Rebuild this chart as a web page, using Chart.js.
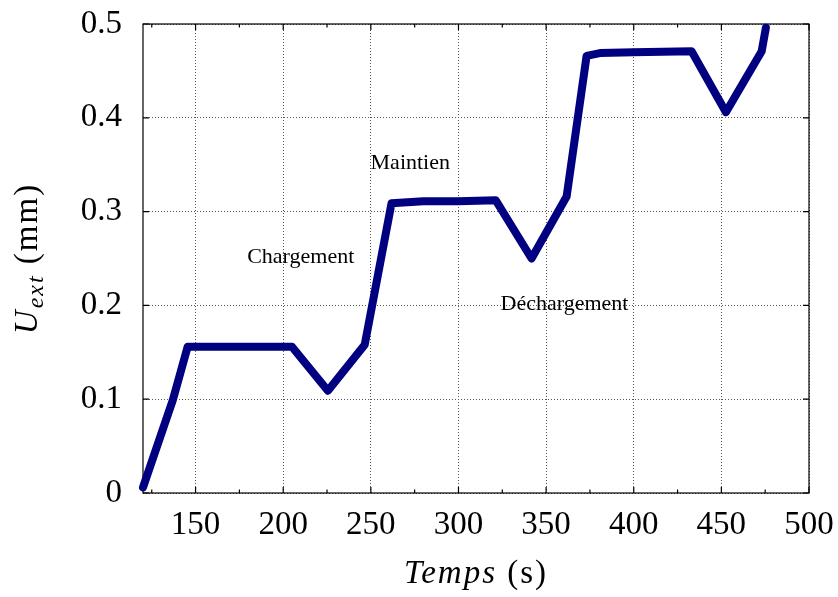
<!DOCTYPE html>
<html>
<head>
<meta charset="utf-8">
<script src="https://cdn.jsdelivr.net/npm/chart.js@4"></script>
<style>
  html, body { margin: 0; padding: 0; background: #fff; }
  #wrap { width: 838px; height: 597px; }
</style>
</head>
<body>
<div id="wrap"><canvas id="dispChart"></canvas></div>
<script>
// Temps (s) / U_ext (mm)
const temps = [120, 137, 145.5, 160, 180, 205, 225.5, 246.5, 261.8, 280, 300, 321.3,
               341.7, 361.7, 373.1, 380.7, 400, 433, 452.6, 473, 475.4];
const uExt  = [0.006, 0.099, 0.156, 0.156, 0.156, 0.156, 0.109, 0.158, 0.309, 0.311, 0.311, 0.312,
               0.250, 0.316, 0.466, 0.469, 0.470, 0.471, 0.406, 0.471, 0.496];

const xTicks = [150, 200, 250, 300, 350, 400, 450, 500];
const xMinorTicks = [125, 175, 225, 275, 325, 375, 425, 475];
const yTicks = [0, 0.1, 0.2, 0.3, 0.4, 0.5];

// phase labels, in data coordinates
const phaseLabels = ['Chargement', 'Maintien', 'Déchargement'];
const phaseX = [210, 272.5, 360.5];
const phaseY = [0.251, 0.352, 0.201];

const serif = '"Liberation Serif", "Times New Roman", serif';

// keep the plot box where the reference has it, whatever the tick labels need
function noScalePadding(s) {
    s.paddingTop = 0; s.paddingBottom = 0; s.paddingLeft = 0; s.paddingRight = 0;
}

// frame, inward ticks (mirrored), axis titles and text labels
const framePlugin = {
    id: 'frame',
    beforeDatasetsDraw(chart) {
        const ctx = chart.ctx;
        const a = chart.chartArea;
        const xs = chart.scales.x, ys = chart.scales.y;
        ctx.save();
        ctx.strokeStyle = '#000';
        ctx.lineWidth = 1.2;
        ctx.setLineDash([]);
        ctx.strokeRect(a.left, a.top, a.right - a.left, a.bottom - a.top);

        ctx.beginPath();
        xTicks.forEach(v => {
            const px = xs.getPixelForValue(v);
            ctx.moveTo(px, a.bottom); ctx.lineTo(px, a.bottom - 6);
            ctx.moveTo(px, a.top); ctx.lineTo(px, a.top + 6);
        });
        xMinorTicks.forEach(v => {
            const px = xs.getPixelForValue(v);
            ctx.moveTo(px, a.bottom); ctx.lineTo(px, a.bottom - 3.5);
            ctx.moveTo(px, a.top); ctx.lineTo(px, a.top + 3.5);
        });
        yTicks.forEach(v => {
            const py = ys.getPixelForValue(v);
            ctx.moveTo(a.left, py); ctx.lineTo(a.left + 6, py);
            ctx.moveTo(a.right, py); ctx.lineTo(a.right - 6, py);
        });
        ctx.stroke();
        ctx.restore();
    },
    afterDraw(chart) {
        const ctx = chart.ctx;
        const a = chart.chartArea;
        const xs = chart.scales.x, ys = chart.scales.y;
        ctx.save();
        ctx.fillStyle = '#000';

        // phase labels
        ctx.font = '22px ' + serif;
        ctx.textAlign = 'center';
        ctx.textBaseline = 'middle';
        phaseLabels.forEach((t, i) => {
            ctx.fillText(t, xs.getPixelForValue(phaseX[i]), ys.getPixelForValue(phaseY[i]));
        });

        // x title: Temps (s)
        ctx.textBaseline = 'alphabetic';
        ctx.textAlign = 'left';
        ctx.letterSpacing = '2px';
        const fIt = 'italic 33px ' + serif, fUp = '33px ' + serif;
        ctx.font = fIt; const w1 = ctx.measureText('Temps').width;
        ctx.font = fUp; const w2 = ctx.measureText(' (s)').width;
        let x0 = (a.left + a.right) / 2 - (w1 + w2) / 2;
        const by = 583;
        ctx.font = fIt; ctx.fillText('Temps', x0, by);
        ctx.font = fUp; ctx.fillText(' (s)', x0 + w1, by);

        // y title: U_ext (mm), rotated
        ctx.translate(37, (a.top + a.bottom) / 2);
        ctx.rotate(-Math.PI / 2);
        const fSub = 'italic 24px ' + serif;
        ctx.font = fIt; const u1 = ctx.measureText('U').width;
        ctx.font = fSub; const u2 = ctx.measureText('ext').width;
        ctx.font = fUp; const u3 = ctx.measureText(' (mm)').width;
        let s = -(u1 + u2 + u3) / 2;
        ctx.font = fIt; ctx.fillText('U', s, 0);
        ctx.font = fSub; ctx.fillText('ext', s + u1, 6);
        ctx.font = fUp; ctx.fillText(' (mm)', s + u1 + u2, 0);
        ctx.restore();
    }
};

const ctx = document.getElementById('dispChart').getContext('2d');
const dispChart = new Chart(ctx, {
    type: 'line',
    data: {
        datasets: [{
            data: temps.map((t, i) => ({ x: t, y: uExt[i] })),
            borderColor: '#000080',
            borderWidth: 8,
            borderCapStyle: 'round',
            borderJoinStyle: 'round',
            pointRadius: 0,
            tension: 0,
            fill: false,
            clip: false
        }]
    },
    options: {
        responsive: true,
        maintainAspectRatio: false,
        animation: false,
        layout: { padding: { top: 24, right: 29, left: 0, bottom: 0 } },
        plugins: {
            legend: { display: false },
            tooltip: { enabled: false }
        },
        scales: {
            x: {
                type: 'linear',
                min: 120,
                max: 500,
                afterBuildTicks: s => { s.ticks = xTicks.map(v => ({ value: v })); },
                afterFit: s => { s.height = 104; noScalePadding(s); },
                grid: { color: '#555', lineWidth: 1, drawTicks: false },
                border: { display: false, dash: [1, 2] },
                ticks: {
                    color: '#000',
                    padding: 13,
                    maxRotation: 0,
                    autoSkip: false,
                    font: { family: serif, size: 33 },
                    callback: v => String(v)
                }
            },
            y: {
                type: 'linear',
                min: 0,
                max: 0.5,
                afterBuildTicks: s => { s.ticks = yTicks.map(v => ({ value: v })); },
                afterFit: s => { s.width = 143; noScalePadding(s); },
                grid: { color: '#555', lineWidth: 1, drawTicks: false },
                border: { display: false, dash: [1, 2] },
                ticks: {
                    color: '#000',
                    padding: 21,
                    autoSkip: false,
                    font: { family: serif, size: 33 },
                    callback: v => (v === 0 ? '0' : v.toFixed(1))
                }
            }
        }
    },
    plugins: [framePlugin]
});
</script>
</body>
</html>
